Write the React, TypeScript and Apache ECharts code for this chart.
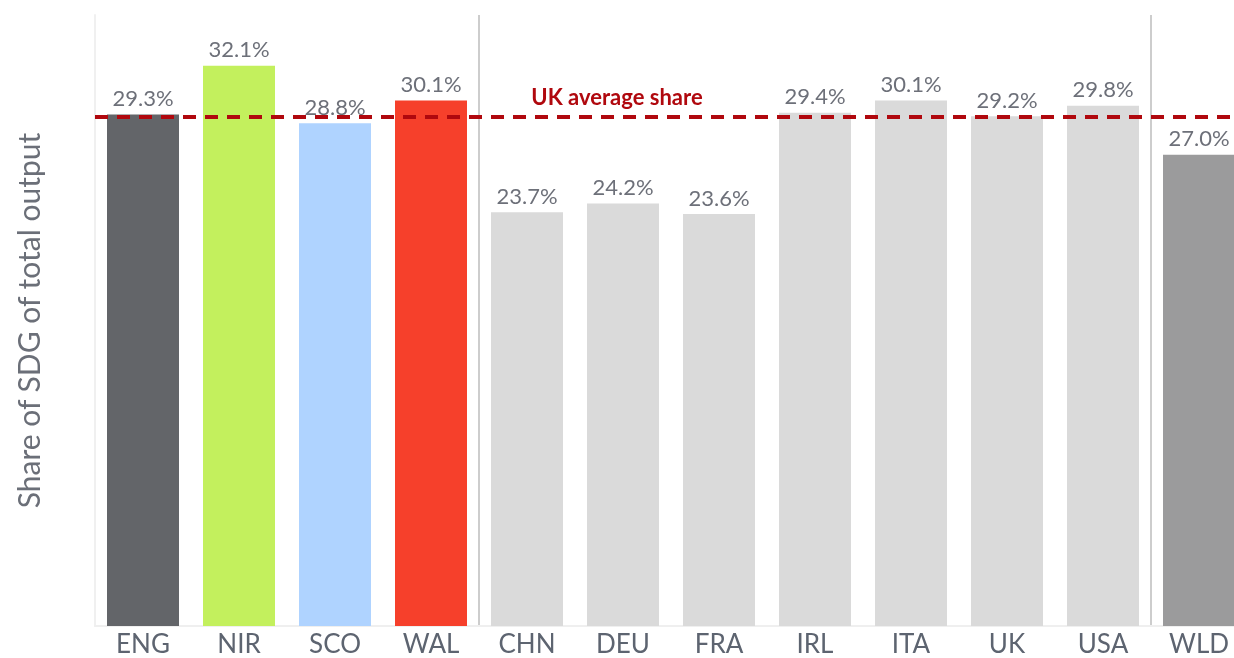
import React, { useEffect, useRef } from "react";
import * as echarts from "echarts";

const categories = ["ENG", "NIR", "SCO", "WAL", "CHN", "DEU", "FRA", "IRL", "ITA", "UK", "USA", "WLD"];
const values = [29.3, 32.1, 28.8, 30.1, 23.7, 24.2, 23.6, 29.4, 30.1, 29.2, 29.8, 27.0];
const barColors = ["#636569", "#c3f05d", "#afd3ff", "#f6402b", "#dadada", "#dadada", "#dadada", "#dadada", "#dadada", "#dadada", "#dadada", "#9b9b9c"];
const ukAverage = 29.2;
const separatorsAfter = [4, 11];

export default function App() {
  const ref = useRef<HTMLDivElement>(null);
  useEffect(() => {
    if (!ref.current) return;
    const chart = echarts.init(ref.current, null, { renderer: "svg" });
    const font = "Lato, 'Open Sans', sans-serif";
    chart.setOption({
      animation: false,
      textStyle: { fontFamily: font },
      grid: { left: 95, top: 15, width: 1152, height: 611, outerBoundsMode: "none", containLabel: false },
      xAxis: {
        type: "category",
        data: categories,
        axisLine: { show: true, lineStyle: { color: "#efefef", width: 2 } },
        axisTick: { show: false },
        axisLabel: { color: "#5d6470", fontSize: 26, lineHeight: 24, margin: 5, fontFamily: font },
        splitLine: {
          show: true,
          interval: (index: number) => separatorsAfter.indexOf(index) >= 0,
          lineStyle: { color: "#cdcdcd", width: 2 },
        },
      },
      yAxis: {
        type: "value",
        min: 0,
        max: 35,
        name: "Share of SDG of total output",
        nameLocation: "middle",
        nameGap: 52,
        nameTextStyle: { color: "#6b6f78", fontSize: 30, fontFamily: font },
        axisLine: { show: true, lineStyle: { color: "#f0f0f0", width: 2 } },
        axisTick: { show: false },
        axisLabel: { show: false },
        splitLine: { show: false },
      },
      series: [
        {
          type: "bar",
          data: values.map((v, i) => ({ value: v, itemStyle: { color: barColors[i] } })),
          barWidth: 72,
          label: {
            show: true,
            position: "top",
            distance: 6,
            color: "#6d7079",
            fontSize: 22,
            fontFamily: font,
            formatter: (p: any) => p.value.toFixed(1) + "%",
          },
          markLine: {
            symbol: "none",
            silent: true,
            data: [{ yAxis: ukAverage }],
            lineStyle: { color: "#b0080e", width: 4, type: [13, 9] },
            label: { show: false },
          },
        },
      ],
      graphic: [
        {
          type: "text",
          x: 617,
          y: 96,
          style: {
            text: "UK average share",
            fill: "#b0080e",
            font: "bold 22px " + font,
            textAlign: "center",
            textVerticalAlign: "middle",
          },
        },
      ],
    });
    return () => chart.dispose();
  }, []);
  return <div ref={ref} style={{ width: 1234, height: 658, position: "fixed", left: 0, top: 0 }} />;
}
